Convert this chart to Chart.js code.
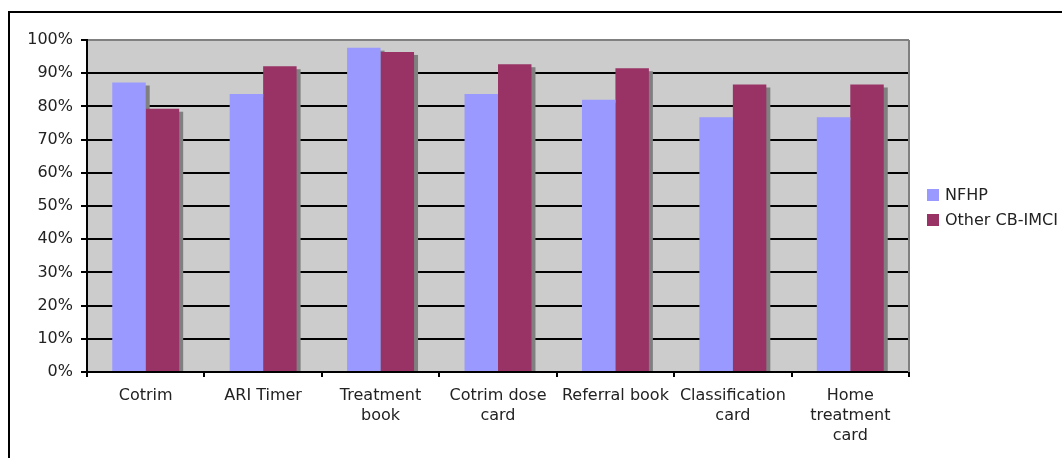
<!DOCTYPE html>
<html>
<head>
<meta charset="utf-8">
<script src="https://cdn.jsdelivr.net/npm/chart.js@4/dist/chart.umd.min.js"></script>
<style>
  html, body { margin: 0; padding: 0; background: #fff; }
  #wrap { width: 1062px; height: 458px; }
</style>
</head>
<body>
<div id="wrap"><canvas id="c" width="1062" height="458"></canvas></div>
<script>
// Tools available, by programme (share of respondents, %)
const categories = [
  'Cotrim',
  'ARI Timer',
  ['Treatment', 'book'],
  ['Cotrim dose', 'card'],
  'Referral book',
  ['Classification', 'card'],
  ['Home', 'treatment', 'card']
];
const seriesNames = ['NFHP', 'Other CB-IMCI'];
const nfhpValues  = [87.2, 83.7, 97.7, 83.7, 82.0, 76.7, 76.7];
const otherValues = [79.3, 92.1, 96.4, 92.7, 91.5, 86.6, 86.6];
const yTicks = [0, 10, 20, 30, 40, 50, 60, 70, 80, 90, 100];

const colours = ['#9999FF', '#993366'];
const FONT = '"DejaVu Sans", Verdana, sans-serif';

// grey plot background, drop shadows behind the bars, plot frame and legend
const decor = {
  id: 'decor',
  beforeDraw(chart) {
    const { ctx, chartArea: a } = chart;
    ctx.save();
    ctx.fillStyle = '#CCCCCC';
    ctx.fillRect(a.left, a.top, a.right - a.left, a.bottom - a.top);
    ctx.restore();
  },
  beforeDatasetsDraw(chart) {
    const { ctx } = chart;
    ctx.save();
    ctx.fillStyle = '#808080';
    chart.data.datasets.forEach((ds, i) => {
      chart.getDatasetMeta(i).data.forEach(bar => {
        const p = bar.getProps(['x', 'y', 'base', 'width'], true);
        const left = p.x - p.width / 2 + 4;
        const top = p.y + 3;
        ctx.fillRect(left, top, p.width, p.base - top);
      });
    });
    ctx.restore();
  },
  afterDraw(chart) {
    const { ctx, chartArea: a } = chart;
    ctx.save();
    // right edge of the plot area
    ctx.strokeStyle = '#808080';
    ctx.lineWidth = 2;
    ctx.beginPath();
    ctx.moveTo(a.right, a.top);
    ctx.lineTo(a.right, a.bottom);
    ctx.stroke();
    // outer frame
    ctx.strokeStyle = '#000';
    ctx.beginPath();
    ctx.moveTo(9, 458);
    ctx.lineTo(9, 12);
    ctx.lineTo(1062, 12);
    ctx.stroke();
    // legend
    ctx.font = '16px ' + FONT;
    ctx.textBaseline = 'middle';
    ctx.textAlign = 'left';
    chart.data.datasets.forEach((ds, i) => {
      const cy = 195 + i * 25;
      ctx.fillStyle = ds.backgroundColor;
      ctx.fillRect(927, cy - 6, 12, 12);
      ctx.fillStyle = '#222';
      ctx.fillText(ds.label, 945, cy + 1);
    });
    ctx.restore();
  }
};

new Chart(document.getElementById('c'), {
  type: 'bar',
  data: {
    labels: categories,
    datasets: [
      { label: seriesNames[0], data: nfhpValues,  backgroundColor: colours[0] },
      { label: seriesNames[1], data: otherValues, backgroundColor: colours[1] }
    ]
  },
  options: {
    responsive: false,
    animation: false,
    events: [],
    categoryPercentage: 0.57,
    barPercentage: 1.0,
    layout: { padding: { left: 0, top: 40, right: 153, bottom: 0 } },
    plugins: { legend: { display: false }, tooltip: { enabled: false }, title: { display: false } },
    scales: {
      x: {
        offset: true,
        afterFit(s) { s.height = 86; },
        grid: {
          offset: true,
          drawOnChartArea: false,
          drawTicks: true,
          tickLength: 5,
          color: '#000',
          lineWidth: 2
        },
        border: { color: '#000', width: 2 },
        ticks: {
          autoSkip: false,
          maxRotation: 0,
          minRotation: 0,
          padding: 9,
          color: '#222',
          font: { family: FONT, size: 16, lineHeight: 1.25 }
        }
      },
      y: {
        min: 0,
        max: 100,
        afterFit(s) { s.width = 87; },
        afterBuildTicks(s) { s.ticks = yTicks.map(v => ({ value: v })); },
        grid: {
          color: ctx => (ctx.tick && ctx.tick.value === 100 ? '#808080' : '#000'),
          tickColor: '#000',
          lineWidth: 2,
          tickLength: 6
        },
        border: { color: '#000', width: 2 },
        ticks: {
          padding: 8,
          color: '#222',
          font: { family: FONT, size: 16 },
          callback: v => v + '%'
        }
      }
    }
  },
  plugins: [decor]
});
</script>
</body>
</html>
